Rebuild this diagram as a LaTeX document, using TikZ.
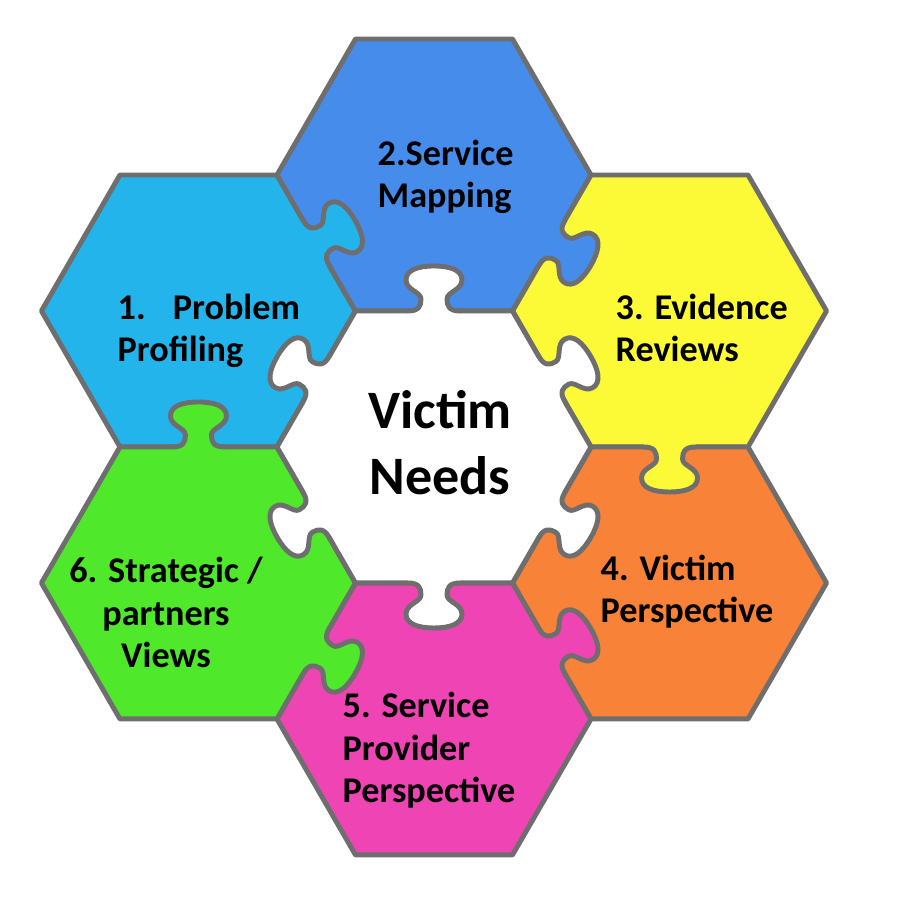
\documentclass[tikz,border=0pt]{standalone}
\usepackage{fontspec}
\setmainfont{Carlito}
\usepackage{tikz}

\definecolor{pcyan}{HTML}{23B4EC}
\definecolor{pblue}{HTML}{468CEB}
\definecolor{pyellow}{HTML}{FCFA37}
\definecolor{porange}{HTML}{F88237}
\definecolor{pmagenta}{HTML}{EE44B4}
\definecolor{pgreen}{HTML}{50E82A}
\definecolor{edgegray}{HTML}{6E6E6E}

\tikzset{
    piece/.style={draw=edgegray,line width=1.4pt,line join=round},
    rim/.style={draw=edgegray,line width=1.4pt,line cap=round,line join=round},
    lbl/.style={font=\bfseries\fontsize{10.3pt}{12.2pt}\selectfont,text=black,inner sep=0pt,align=left,anchor=base west},
    knob curve/.style={insert path={-- (-0.26,0) .. controls (-0.15,0) and (-0.13,0.05) .. (-0.13,0.12)
        .. controls (-0.13,0.19) and (-0.28,0.21) .. (-0.28,0.31)
        .. controls (-0.28,0.41) and (-0.16,0.45) .. (0,0.45)
        .. controls (0.16,0.45) and (0.28,0.41) .. (0.28,0.31)
        .. controls (0.28,0.21) and (0.13,0.19) .. (0.13,0.12)
        .. controls (0.13,0.05) and (0.15,0) .. (0.26,0)}}
}

\begin{document}
\begin{tikzpicture}
    \useasboundingbox (-4.34,-4.52) rectangle (4.66,4.47);
    \coordinate (c0) at (0,0);
    \foreach \n/\a in {1/150,2/90,3/30,4/-30,5/-90,6/210}
    \coordinate (c\n) at (\a:2.72);
    % hexagons
    \foreach \n/\c in {1/pcyan,2/pblue,3/pyellow,4/porange,5/pmagenta,6/pgreen,0/white}
    \draw[piece,fill=\c,shift={(c\n)}] (0:1.57) -- (60:1.57) -- (120:1.57) -- (180:1.57) -- (240:1.57) -- (300:1.57) -- cycle;
    % tabs: owner / direction / colour
    \foreach \n/\d/\c in {0/30/white,0/90/white,0/150/white,0/210/white,0/270/white,0/330/white,
        1/30/pcyan,2/-30/pblue,3/-90/pyellow,5/30/pmagenta,6/-30/pgreen,6/90/pgreen}
    {
    \begin{scope}[shift={(c\n)},rotate=\d-90,shift={(0,1.36)}]
        \fill[\c] (-0.26,-0.04) [knob curve] -- (0.26,-0.04) -- cycle;
        \draw[rim] (-0.26,0) [knob curve];
    \end{scope}
    }
    % labels (anchored at the last line)
    \node[lbl] (prob) at (-3.17,0.85) {1.\hspace{0.75em}Problem\\Profiling};
    \node[lbl] (map) at (-0.57,2.39) {2.Service\\Mapping};
    \node[lbl] (evid) at (1.81,0.85) {3. Evidence\\Reviews};
    \node[lbl] (vict) at (1.66,-1.76) {4. Victim\\Perspective};
    \node[lbl] (prov) at (-0.92,-3.56) {5. Service\\Provider\\Perspective};
    \node[lbl,align=center,anchor=base] (strat) at (-2.68,-2.21) {6. Strategic /\\partners\\Views};
    \node[lbl,align=center,anchor=base,font=\bfseries\fontsize{15.4pt}{19pt}\selectfont] (needs) at (0.06,-0.48) {Victim\\Needs};
\end{tikzpicture}
\end{document}
